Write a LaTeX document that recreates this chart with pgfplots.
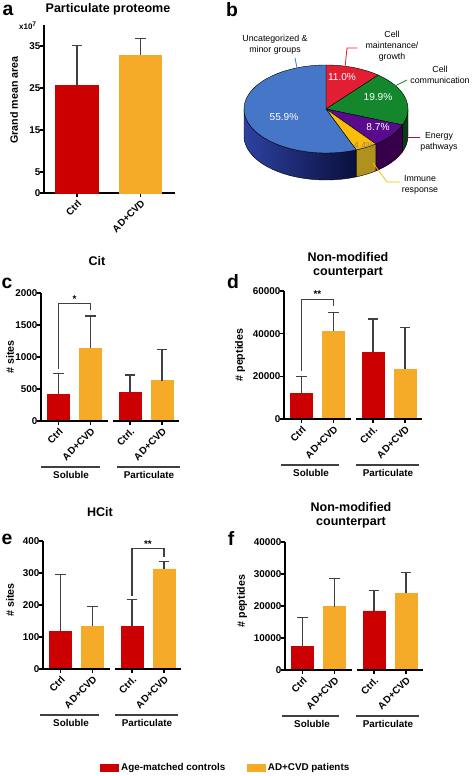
\documentclass[border=0pt]{standalone}
\usepackage{fontspec}
\setmainfont{Liberation Sans}
\usepackage{pgfplots}
\pgfplotsset{compat=1.18}

\definecolor{cRed}{RGB}{204,0,0}
\definecolor{cOra}{RGB}{245,170,40}
\definecolor{cErr}{RGB}{64,64,64}
\definecolor{pBlue}{RGB}{70,118,200}
\definecolor{pRed}{RGB}{225,30,50}
\definecolor{pGreen}{RGB}{20,135,45}
\definecolor{pPurple}{RGB}{90,10,140}
\definecolor{pYellow}{RGB}{250,190,10}
\definecolor{pBlueSideA}{RGB}{45,65,160}
\definecolor{pBlueSideB}{RGB}{10,15,60}
\definecolor{pYellowSide}{RGB}{175,145,30}
\definecolor{pPurpleSide}{RGB}{55,0,75}
\definecolor{pGreenSide}{RGB}{10,60,25}
\definecolor{pEnergy}{RGB}{150,20,70}
\definecolor{pFour}{RGB}{150,130,90}

\newcommand{\fT}{\bfseries\fontsize{9.4}{10.5}\selectfont}
\newcommand{\fL}{\bfseries\fontsize{8}{9.5}\selectfont}
\newcommand{\fK}{\bfseries\fontsize{7.4}{9}\selectfont}
\newcommand{\fP}{\bfseries\fontsize{14.5}{17}\selectfont}
\newcommand{\fS}{\fontsize{6.6}{8.1}\selectfont}
\newcommand{\fN}{\fontsize{7.6}{9}\selectfont}

\pgfplotsset{
  errs/.style={error bars/.cd, y dir=plus, y explicit, error mark=-,
    error bar style={line width=0.9pt, draw=cErr},
    error mark options={rotate=90, line width=0.9pt, draw=cErr, mark size=4pt}},
  basebar/.style={
    scale only axis, anchor=south west,
    axis x line*=bottom, axis y line*=left,
    y axis line style={line width=1.1pt},
    tick align=outside, major tick length=3pt,
    tick style={line width=0.9pt, black},
    xticklabel style={rotate=45, anchor=north east, font=\fK, inner sep=1pt},
    yticklabel style={font=\fK, inner sep=0.5pt, xshift=1pt, /pgf/number format/fixed, /pgf/number format/1000 sep={}},
    /pgf/number format/assume math mode=true,
    scaled y ticks=false,
    ybar, ymin=0, clip=false,
  },
  panelcf/.style={basebar, width=103.5pt, height=96pt,
    x axis line style={draw=none},
    xmin=0, xmax=138, xtick={17.5,49.5,89,121},
    xticklabels={Ctrl,AD+CVD,Ctrl.,AD+CVD},
    bar width=22},
}

\begin{document}
\begin{tikzpicture}[x=0.75pt,y=0.75pt]
\useasboundingbox (0,0) rectangle (472,776);

% ---------------- panel a ----------------
\begin{axis}[basebar, at={(33pt,437.25pt)}, width=98.25pt, height=126pt,
  x axis line style={line width=1.1pt},
  xmin=0, xmax=131, ymax=40, ytick={0,5,15,25,35},
  xtick={33,96.5}, xticklabels={Ctrl,AD+CVD}, bar width=42.5]
\addplot[fill=cRed, draw=cRed, bar shift=0pt, errs] coordinates {(33,25.7) +- (0,9.5)};
\addplot[fill=cOra, draw=cOra, bar shift=0pt, errs] coordinates {(96.5,32.9) +- (0,3.8)};
\end{axis}
\node[font=\fT] at (108,767) {Particulate proteome};
\node[font=\fP] at (8,766) {a};
\node[font=\fL, rotate=90] at (14,676) {Grand mean area};
\node[font=\bfseries\fontsize{6}{7}\selectfont] at (28,750) {x10\textsuperscript{7}};

% ---------------- panel b (pie) ----------------
\pgfmathsetmacro\aA{90-3.6*11.0}
\pgfmathsetmacro\aB{\aA-3.6*19.9}
\pgfmathsetmacro\aC{\aB-3.6*8.7}
\pgfmathsetmacro\aD{\aC-3.6*4.4}
\begin{axis}[hide axis, x=0.75pt, y=0.75pt, xmin=-120, xmax=120, ymin=-100, ymax=100,
  anchor=center, at={(244.5pt,500.25pt)}, clip=false]
\addplot[draw=none] coordinates {(0,0)};
% side walls
\fill[pGreenSide, draw=black, line width=0.3pt] (axis cs:0,0) ++(0:61.5pt and 33pt)
  arc[start angle=0, end angle=\aB, x radius=61.5pt, y radius=33pt] -- ++(0pt,-20.25pt)
  arc[start angle=\aB, end angle=0, x radius=61.5pt, y radius=33pt] -- cycle;
\fill[pPurpleSide, draw=black, line width=0.3pt] (axis cs:0,0) ++(\aB:61.5pt and 33pt)
  arc[start angle=\aB, end angle=\aC, x radius=61.5pt, y radius=33pt] -- ++(0pt,-20.25pt)
  arc[start angle=\aC, end angle=\aB, x radius=61.5pt, y radius=33pt] -- cycle;
\fill[pYellowSide, draw=black, line width=0.3pt] (axis cs:0,0) ++(\aC:61.5pt and 33pt)
  arc[start angle=\aC, end angle=\aD, x radius=61.5pt, y radius=33pt] -- ++(0pt,-20.25pt)
  arc[start angle=\aD, end angle=\aC, x radius=61.5pt, y radius=33pt] -- cycle;
\shade[left color=pBlueSideA, right color=pBlueSideB, draw=black, line width=0.3pt] (axis cs:0,0) ++(\aD:61.5pt and 33pt)
  arc[start angle=\aD, end angle=-180, x radius=61.5pt, y radius=33pt] -- ++(0pt,-20.25pt)
  arc[start angle=-180, end angle=\aD, x radius=61.5pt, y radius=33pt] -- cycle;
% top faces
\fill[pRed, draw=black, line width=0.3pt] (axis cs:0,0) -- ++(90:61.5pt and 33pt)
  arc[start angle=90, end angle=\aA, x radius=61.5pt, y radius=33pt] -- cycle;
\fill[pGreen, draw=black, line width=0.3pt] (axis cs:0,0) -- ++(\aA:61.5pt and 33pt)
  arc[start angle=\aA, end angle=\aB, x radius=61.5pt, y radius=33pt] -- cycle;
\fill[pPurple, draw=black, line width=0.3pt] (axis cs:0,0) -- ++(\aB:61.5pt and 33pt)
  arc[start angle=\aB, end angle=\aC, x radius=61.5pt, y radius=33pt] -- cycle;
\fill[pYellow, draw=black, line width=0.3pt] (axis cs:0,0) -- ++(\aC:61.5pt and 33pt)
  arc[start angle=\aC, end angle=\aD, x radius=61.5pt, y radius=33pt] -- cycle;
\fill[pBlue, draw=black, line width=0.3pt] (axis cs:0,0) -- ++(\aD:61.5pt and 33pt)
  arc[start angle=\aD, end angle=-270, x radius=61.5pt, y radius=33pt] -- cycle;
% percentages
\node[white, font=\fN] at (axis cs:16,32) {11.0\%};
\node[white, font=\fN] at (axis cs:52,12) {19.9\%};
\node[white, font=\fN] at (axis cs:52,-18) {8.7\%};
\node[pFour, font=\fS] at (axis cs:38,-36) {4.4\%};
\node[white, font=\fN] at (axis cs:-42,-8) {55.9\%};
% leaders and labels
\draw[pBlue, line width=0.6pt] (axis cs:-29,41) -- (axis cs:-31,51);
\node[font=\fS, align=center] at (axis cs:-51,64) {Uncategorized \&\\minor groups};
\draw[pRed, line width=0.6pt] (axis cs:19,41) -- (axis cs:21,61) -- (axis cs:31,61);
\node[font=\fS, align=center] at (axis cs:66,63) {Cell\\maintenance/\\growth};
\draw[pGreen, line width=0.6pt] (axis cs:69,23) -- (axis cs:81,29);
\node[font=\fS, align=center] at (axis cs:114,34) {Cell\\communication};
\draw[pEnergy, line width=0.6pt] (axis cs:81,-28) -- (axis cs:94,-28);
\node[font=\fS, align=center] at (axis cs:113,-33) {Energy\\pathways};
\draw[pYellow, line width=0.6pt] (axis cs:47,-54) -- (axis cs:61,-73) -- (axis cs:74,-73);
\node[font=\fS, align=center] at (axis cs:94,-76) {Immune\\response};
\end{axis}
\node[font=\fP] at (232,766) {b};

% ---------------- panel c ----------------
\begin{axis}[panelcf, at={(30.75pt,266.25pt)}, ymax=2000, ytick={0,500,1000,1500,2000}]
\addplot[fill=cRed, draw=cRed, bar shift=0pt, errs] coordinates {(17.5,410) +- (0,330) (89,450) +- (0,270)};
\addplot[fill=cOra, draw=cOra, bar shift=0pt, errs] coordinates {(49.5,1140) +- (0,500) (121,630) +- (0,490)};
\draw[line width=1.1pt] (axis cs:0,0) -- (axis cs:67,0);
\draw[line width=1.1pt] (axis cs:72,0) -- (axis cs:138,0);
\draw[cErr, line width=0.8pt] (axis cs:17.5,820) |- (axis cs:49.5,1830) -- (axis cs:49.5,1740);
\node[font=\fK, anchor=south, inner sep=1pt] at (axis cs:33.5,1830) {*};
\end{axis}
\node[font=\fT] at (97,515) {Cit};
\node[font=\fP] at (7,493) {c};
\node[font=\fL, rotate=90] at (10,419) {\# sites};
\draw[cErr, line width=0.8pt] (41,309) -- (100,309);
\draw[cErr, line width=0.8pt] (117,309) -- (180,309);
\node[font=\fK] at (71,301) {Soluble};
\node[font=\fK] at (149,301) {Particulate};

% ---------------- panel d ----------------
\begin{axis}[panelcf, at={(213pt,267.75pt)}, ymax=60000, ytick={0,20000,40000,60000}]
\addplot[fill=cRed, draw=cRed, bar shift=0pt, errs] coordinates {(17.5,12000) +- (0,8000) (89,31400) +- (0,15500)};
\addplot[fill=cOra, draw=cOra, bar shift=0pt, errs] coordinates {(49.5,41100) +- (0,8700) (121,23300) +- (0,19700)};
\draw[line width=1.1pt] (axis cs:0,0) -- (axis cs:67,0);
\draw[line width=1.1pt] (axis cs:72,0) -- (axis cs:138,0);
\draw[cErr, line width=0.8pt] (axis cs:17.5,22500) |- (axis cs:49.5,56100) -- (axis cs:49.5,53000);
\node[font=\fK, anchor=south, inner sep=1pt] at (axis cs:33.5,56100) {**};
\end{axis}
\node[font=\fT, align=center] at (348,511) {Non-modified\\counterpart};
\node[font=\fP] at (233,494) {d};
\node[font=\fL, rotate=90] at (240,421) {\# peptides};
\draw[cErr, line width=0.8pt] (281,311) -- (339,311);
\draw[cErr, line width=0.8pt] (356,311) -- (419,311);
\node[font=\fK] at (311,303) {Soluble};
\node[font=\fK] at (388,303) {Particulate};

% ---------------- panel e ----------------
\begin{axis}[panelcf, at={(32.25pt,80.25pt)}, ymax=400, ytick={0,100,200,300,400},
  legend columns=2,
  legend style={at={(1.326,-0.773)}, anchor=center, draw=none, fill=none, font=\fK,
    inner sep=0pt, /tikz/every even column/.append style={column sep=14pt}}]
\addplot[fill=cRed, draw=cRed, bar shift=0pt,
  legend image code/.code={\fill[cRed] (0pt,-2.6pt) rectangle (13.5pt,2.6pt);}, errs]
  coordinates {(17.5,118) +- (0,178) (89,134) +- (0,84)};
\addlegendentry{Age-matched controls}
\addplot[fill=cOra, draw=cOra, bar shift=0pt,
  legend image code/.code={\fill[cOra] (0pt,-2.6pt) rectangle (13.5pt,2.6pt);}, errs]
  coordinates {(49.5,133) +- (0,62) (121,313) +- (0,24)};
\addlegendentry{AD+CVD patients}
\draw[line width=1.1pt] (axis cs:0,0) -- (axis cs:67,0);
\draw[line width=1.1pt] (axis cs:72,0) -- (axis cs:138,0);
\draw[cErr, line width=0.8pt] (axis cs:89,228) |- (axis cs:121,376) -- (axis cs:121,351);
\node[font=\fK, anchor=south, inner sep=1pt] at (axis cs:105,376) {**};
\end{axis}
\node[font=\fT] at (100,264) {HCit};
\node[font=\fP] at (7,237) {e};
\node[font=\fL, rotate=90] at (10,176) {\# sites};
\draw[cErr, line width=0.8pt] (40,61) -- (99,61);
\draw[cErr, line width=0.8pt] (115,61) -- (178,61);
\node[font=\fK] at (71,53) {Soluble};
\node[font=\fK] at (147,53) {Particulate};

% ---------------- panel f ----------------
\begin{axis}[panelcf, at={(213.75pt,79.5pt)}, ymax=40000, ytick={0,10000,20000,30000,40000}]
\addplot[fill=cRed, draw=cRed, bar shift=0pt, errs] coordinates {(17.5,7300) +- (0,9000) (89,18500) +- (0,6300)};
\addplot[fill=cOra, draw=cOra, bar shift=0pt, errs] coordinates {(49.5,19800) +- (0,8700) (121,24000) +- (0,6400)};
\draw[line width=1.1pt] (axis cs:0,0) -- (axis cs:67,0);
\draw[line width=1.1pt] (axis cs:72,0) -- (axis cs:138,0);
\end{axis}
\node[font=\fT, align=center] at (351,261) {Non-modified\\counterpart};
\node[font=\fP] at (231,238) {f};
\node[font=\fL, rotate=90] at (242,175) {\# peptides};
\draw[cErr, line width=0.8pt] (282,60) -- (339,60);
\draw[cErr, line width=0.8pt] (356,60) -- (419,60);
\node[font=\fK] at (312,52) {Soluble};
\node[font=\fK] at (388,52) {Particulate};
\end{tikzpicture}
\end{document}
